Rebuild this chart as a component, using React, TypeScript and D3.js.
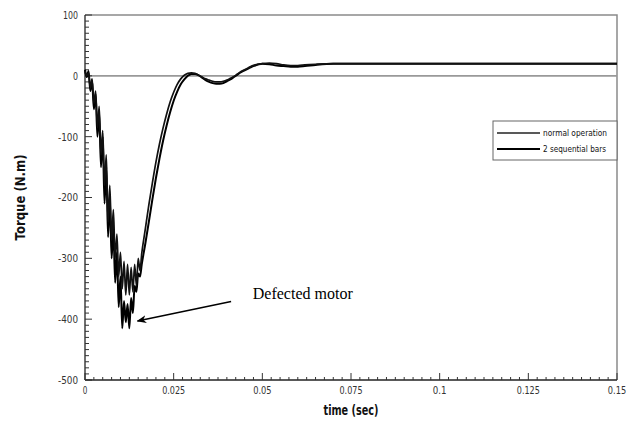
import React, { useEffect, useRef } from 'react';
import * as d3 from 'd3';

// time in ms, torque in N.m
const normalTime = [
  0, 0.5, 1, 1.5, 2, 2.5, 3, 3.5, 4, 4.5, 5, 5.5, 6, 6.5, 7, 7.5, 8, 8.5, 9, 9.5,
  10, 10.5, 11, 11.5, 12, 12.5, 13, 13.5, 14, 14.5, 15, 15.5, 16,
  17, 18, 19, 20, 21, 22, 23, 24, 25, 26, 27, 28, 29, 30, 31, 32, 33, 34, 35,
  36, 37, 38, 39, 40, 41, 42, 43, 44, 45, 46, 47, 48, 49, 50, 52, 54, 56, 58,
  60, 62, 65, 70, 80, 100, 120, 150,
];
const normalTorque = [
  8, 0, 5, -20, -5, -45, -25, -85, -50, -130, -90, -180, -130, -240, -180, -270, -220, -300, -260, -330,
  -290, -350, -305, -360, -310, -360, -315, -355, -310, -345, -300, -320, -292,
  -252, -212, -176, -142, -112, -86, -63, -43, -27, -14, -5, 1, 4, 5, 4, 1, -2, -5, -7,
  -9, -10, -10, -9, -7, -4, -1, 3, 7, 10, 13, 16, 18, 19, 20, 21, 20, 18, 17,
  17, 18, 19, 20, 20, 20, 20, 20,
];

const defectTime = [
  0, 0.5, 1, 1.5, 2, 2.5, 3, 3.5, 4, 4.5, 5, 5.5, 6, 6.5, 7, 7.5, 8, 8.5, 9, 9.5,
  10, 10.5, 11, 11.5, 12, 12.5, 13, 13.5, 14, 14.5, 15, 15.5, 16,
  17, 18, 19, 20, 21, 22, 23, 24, 25, 26, 27, 28, 29, 30, 31, 32, 33, 34, 35,
  36, 37, 38, 39, 40, 41, 42, 43, 44, 45, 46, 47, 48, 49, 50, 52, 54, 56, 58,
  60, 62, 65, 70, 80, 100, 120, 150,
];
const defectTorque = [
  10, -2, 8, -25, -8, -55, -30, -100, -60, -150, -100, -210, -150, -265, -200, -300, -250, -340, -290, -380,
  -330, -415, -370, -405, -375, -415, -365, -390, -345, -355, -325, -330, -310,
  -276, -240, -203, -168, -136, -107, -82, -60, -41, -26, -14, -6, 0, 3, 3, 1, -3, -7, -10,
  -12, -13, -13, -12, -9, -6, -2, 2, 6, 9, 12, 15, 17, 19, 20, 19, 17, 16, 15,
  15, 16, 18, 20, 20, 20, 20, 20,
];

const xTicks = [0, 0.025, 0.05, 0.075, 0.1, 0.125, 0.15];
const xTickLabels = ['0', '0.025', '0.05', '0.075', '0.1', '0.125', '0.15'];
const yTicks = [100, 0, -100, -200, -300, -400, -500];

const legendLabels = ['normal operation', '2 sequential bars'];

const sans = "'DejaVu Sans', sans-serif";

const App = () => {
  const chartRef = useRef<SVGSVGElement>(null);

  useEffect(() => {
    const svg = d3.select(chartRef.current);
    svg.selectAll('*').remove();

    const left = 85, right = 617, top = 15, bottom = 380;

    const x = d3.scaleLinear().domain([0, 0.15]).range([left, right]);
    const y = d3.scaleLinear().domain([-500, 100]).range([bottom, top]);

    // narrow glyphs like the original plot program
    const squeeze = (s: string, per: number) => s.length * per;

    // frame (top and right, gray)
    svg.append('path')
      .attr('d', `M${left},${top}H${right}V${bottom}`)
      .attr('fill', 'none')
      .attr('stroke', '#8a8a8a')
      .attr('stroke-width', 1.5);

    // zero line
    svg.append('line')
      .attr('x1', left).attr('x2', right)
      .attr('y1', y(0)).attr('y2', y(0))
      .attr('stroke', '#999')
      .attr('stroke-width', 1.8);

    // left axis, ticks inward
    const yAxis = svg.append('g').attr('transform', `translate(${left},0)`);
    yAxis.append('line')
      .attr('y1', top).attr('y2', bottom)
      .attr('stroke', '#222').attr('stroke-width', 1.3);
    yAxis.selectAll('line.minor')
      .data(d3.range(-500, 101, 10))
      .enter().append('line')
      .attr('class', 'minor')
      .attr('x1', 0)
      .attr('x2', d => (d % 100 === 0 ? 7 : 4))
      .attr('y1', d => y(d)).attr('y2', d => y(d))
      .attr('stroke', '#333').attr('stroke-width', 1);
    yAxis.selectAll('text')
      .data(yTicks)
      .enter().append('text')
      .attr('x', -7)
      .attr('y', d => y(d))
      .attr('dy', '0.35em')
      .attr('text-anchor', 'end')
      .attr('font-family', sans)
      .attr('font-size', 11)
      .attr('fill', '#333')
      .attr('textLength', d => squeeze(String(d), 5))
      .attr('lengthAdjust', 'spacingAndGlyphs')
      .text(d => String(d));

    // bottom axis, ticks inward
    const xAxis = svg.append('g').attr('transform', `translate(0,${bottom})`);
    xAxis.append('line')
      .attr('x1', left).attr('x2', right)
      .attr('stroke', '#222').attr('stroke-width', 1.3);
    xAxis.selectAll('line.minor')
      .data(d3.range(0, 61))
      .enter().append('line')
      .attr('class', 'minor')
      .attr('x1', d => x(d * 0.0025)).attr('x2', d => x(d * 0.0025))
      .attr('y1', 0)
      .attr('y2', d => (d % 10 === 0 ? -7 : -3))
      .attr('stroke', '#333').attr('stroke-width', 1);
    xAxis.selectAll('text')
      .data(xTicks)
      .enter().append('text')
      .attr('x', d => x(d))
      .attr('y', 14)
      .attr('text-anchor', 'middle')
      .attr('font-family', sans)
      .attr('font-size', 11)
      .attr('fill', '#333')
      .attr('textLength', (d, i) => squeeze(xTickLabels[i], 4.6))
      .attr('lengthAdjust', 'spacingAndGlyphs')
      .text((d, i) => xTickLabels[i]);

    // axis titles
    svg.append('text')
      .attr('x', (left + right) / 2)
      .attr('y', 415)
      .attr('text-anchor', 'middle')
      .attr('font-family', sans)
      .attr('font-size', 14)
      .attr('font-weight', 'bold')
      .attr('fill', '#111')
      .attr('textLength', 55)
      .attr('lengthAdjust', 'spacingAndGlyphs')
      .text('time (sec)');
    svg.append('text')
      .attr('transform', `translate(25,${(top + bottom) / 2}) rotate(-90)`)
      .attr('text-anchor', 'middle')
      .attr('font-family', sans)
      .attr('font-size', 14)
      .attr('font-weight', 'bold')
      .attr('fill', '#111')
      .attr('textLength', 86)
      .attr('lengthAdjust', 'spacingAndGlyphs')
      .text('Torque (N.m)');

    // curves
    const line = d3.line<[number, number]>()
      .x(d => x(d[0] / 1000))
      .y(d => y(d[1]))
      .curve(d3.curveMonotoneX);

    const normalData = normalTime.map((t, i) => [t, normalTorque[i]] as [number, number]);
    const defectData = defectTime.map((t, i) => [t, defectTorque[i]] as [number, number]);

    svg.append('path')
      .datum(defectData)
      .attr('d', line)
      .attr('fill', 'none')
      .attr('stroke', '#000')
      .attr('stroke-width', 2);
    svg.append('path')
      .datum(normalData)
      .attr('d', line)
      .attr('fill', 'none')
      .attr('stroke', '#111')
      .attr('stroke-width', 1.7);

    // legend
    const lg = svg.append('g');
    lg.append('rect')
      .attr('x', 493).attr('y', 121)
      .attr('width', right - 493).attr('height', 39)
      .attr('fill', '#fff')
      .attr('stroke', '#666').attr('stroke-width', 1);
    legendLabels.forEach((label, i) => {
      const ly = 133 + i * 16;
      lg.append('line')
        .attr('x1', 497).attr('x2', 540)
        .attr('y1', ly).attr('y2', ly)
        .attr('stroke', i === 0 ? '#222' : '#000')
        .attr('stroke-width', i === 0 ? 1.5 : 2);
      lg.append('text')
        .attr('x', 543).attr('y', ly)
        .attr('dy', '0.35em')
        .attr('font-family', sans)
        .attr('font-size', 9)
        .attr('fill', '#111')
        .attr('textLength', i === 0 ? 64 : 63)
        .attr('lengthAdjust', 'spacingAndGlyphs')
        .text(label);
    });

    // annotation
    const defs = svg.append('defs');
    defs.append('marker')
      .attr('id', 'arrow')
      .attr('viewBox', '0 0 10 10')
      .attr('refX', 9).attr('refY', 5)
      .attr('markerWidth', 7).attr('markerHeight', 7)
      .attr('orient', 'auto')
      .append('path')
      .attr('d', 'M0,1L10,5L0,9L3,5Z')
      .attr('fill', '#000');
    svg.append('line')
      .attr('x1', x(0.0412)).attr('y1', y(-371))
      .attr('x2', x(0.0148)).attr('y2', y(-403))
      .attr('stroke', '#000')
      .attr('stroke-width', 1.4)
      .attr('marker-end', 'url(#arrow)');
    svg.append('text')
      .attr('x', x(0.0473))
      .attr('y', y(-367))
      .attr('font-family', "'Liberation Serif', 'DejaVu Serif', serif")
      .attr('font-size', 16)
      .attr('fill', '#000')
      .text('Defected motor');
  }, []);

  return (
    <div style={{ position: 'absolute', left: 0, top: 0 }}>
      <svg ref={chartRef} width={633} height={429} style={{ display: 'block', background: '#fff' }} />
    </div>
  );
};

export default App;
